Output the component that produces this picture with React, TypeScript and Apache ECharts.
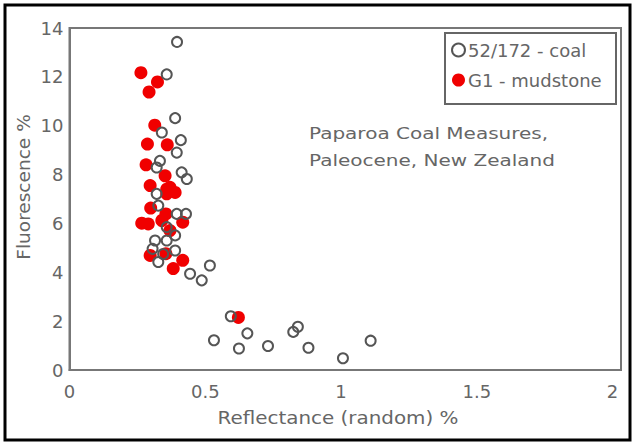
import React, { useEffect, useRef } from "react";
import * as echarts from "echarts";

const coalData: [number, number][] = [
  [0.396, 13.43], [0.358, 12.1], [0.389, 10.31], [0.34, 9.72], [0.41, 9.41],
  [0.395, 8.9], [0.333, 8.56], [0.321, 8.29], [0.413, 8.09], [0.432, 7.82],
  [0.321, 7.21], [0.327, 6.73], [0.395, 6.39], [0.429, 6.39], [0.358, 5.85],
  [0.389, 5.51], [0.315, 5.3], [0.358, 5.3], [0.306, 4.96], [0.389, 4.89],
  [0.345, 4.75], [0.327, 4.42], [0.517, 4.28], [0.444, 3.94], [0.487, 3.67],
  [0.594, 2.2], [0.655, 1.5], [0.532, 1.22], [0.624, 0.88], [0.731, 0.98],
  [0.824, 1.56], [0.841, 1.77], [0.88, 0.91], [1.007, 0.48], [1.109, 1.2],
];

const mudstoneData: [number, number][] = [
  [0.263, 12.17], [0.324, 11.79], [0.293, 11.38], [0.314, 10.02], [0.287, 9.25],
  [0.36, 9.22], [0.282, 8.4], [0.352, 7.95], [0.297, 7.55], [0.37, 7.48],
  [0.389, 7.27], [0.358, 7.21], [0.358, 7.4], [0.299, 6.63], [0.355, 6.39],
  [0.266, 6.01], [0.29, 5.98], [0.34, 6.12], [0.417, 6.05], [0.37, 5.71],
  [0.297, 4.69], [0.355, 4.76], [0.382, 4.15], [0.417, 4.49], [0.622, 2.15],
];

const seriesNames = ["52/172 - coal", "G1 - mudstone"];
const xTitle = "Reflectance (random) %";
const yTitle = "Fluorescence %";
const noteLines = ["Paparoa Coal Measures,", "Paleocene, New Zealand"];

const FONT = "DejaVu Sans";
const GRAY = "#666";

export default function App() {
  const ref = useRef<HTMLDivElement>(null);
  useEffect(() => {
    document.body.style.margin = "0";
    const chart = echarts.init(ref.current!, undefined, { renderer: "svg" });
    chart.setOption({
      animation: false,
      backgroundColor: "#fff",
      grid: {
        left: 69.5,
        right: 13,
        top: 28,
        bottom: 74,
        show: true,
        borderColor: "#777",
        borderWidth: 2,
        outerBoundsMode: "none",
      },
      xAxis: {
        type: "value",
        min: 0,
        max: 2.031,
        interval: 0.5,
        splitLine: { show: false },
        axisTick: { show: false },
        axisLine: { show: true, lineStyle: { color: "#777", width: 2 } },
        axisLabel: {
          color: GRAY,
          fontFamily: FONT,
          fontSize: 18,
          margin: 12,
          formatter: (v: number) => (v > 2.001 ? "" : String(v)),
        },
      },
      yAxis: {
        type: "value",
        min: 0,
        max: 14,
        interval: 2,
        splitLine: { show: false },
        axisTick: { show: false },
        axisLine: { show: true, lineStyle: { color: "#777", width: 2 } },
        axisLabel: { color: GRAY, fontFamily: FONT, fontSize: 18, margin: 6 },
      },
      legend: {
        orient: "vertical",
        left: 451,
        top: 41,
        padding: 0,
        itemGap: 12,
        itemWidth: 13,
        itemHeight: 13,
        textStyle: { color: GRAY, fontFamily: FONT, fontSize: 18, padding: [0, 0, 0, -2] },
        data: [
          { name: seriesNames[0], icon: "circle" },
          { name: seriesNames[1], icon: "circle" },
        ],
      },
      graphic: [
        {
          type: "rect",
          shape: { x: 5, y: 5, width: 625, height: 435 },
          style: { fill: "none", stroke: "#000", lineWidth: 3 },
          silent: true,
        },
        {
          type: "rect",
          shape: { x: 445, y: 33, width: 171, height: 71 },
          style: { fill: "none", stroke: "#666", lineWidth: 2 },
          silent: true,
        },
        {
          type: "text",
          x: 338,
          y: 418,
          scaleX: 1.17,
          style: {
            text: xTitle,
            fill: GRAY,
            font: `17px "${FONT}"`,
            textAlign: "center",
            textVerticalAlign: "middle",
          },
        },
        {
          type: "text",
          x: 24,
          y: 187,
          rotation: Math.PI / 2,
          scaleX: 1.09,
          style: {
            text: yTitle,
            fill: GRAY,
            font: `17px "${FONT}"`,
            textAlign: "center",
            textVerticalAlign: "middle",
          },
        },
        {
          type: "text",
          x: 309,
          y: 133,
          scaleX: 1.25,
          style: {
            text: noteLines[0],
            fill: GRAY,
            font: `16px "${FONT}"`,
            textAlign: "left",
            textVerticalAlign: "middle",
          },
        },
        {
          type: "text",
          x: 309,
          y: 160,
          scaleX: 1.25,
          style: {
            text: noteLines[1],
            fill: GRAY,
            font: `16px "${FONT}"`,
            textAlign: "left",
            textVerticalAlign: "middle",
          },
        },
      ],
      series: [
        {
          name: seriesNames[1],
          type: "scatter",
          data: mudstoneData,
          symbol: "circle",
          symbolSize: 13,
          itemStyle: { color: "#f00000", opacity: 1 },
          z: 2,
        },
        {
          name: seriesNames[0],
          type: "scatter",
          data: coalData,
          symbol: "circle",
          symbolSize: 10,
          itemStyle: { color: "rgba(255,255,255,0)", borderColor: "#555", borderWidth: 2, opacity: 1 },
          z: 3,
        },
      ],
    });
    return () => chart.dispose();
  }, []);
  return (
    <div
      ref={ref}
      style={{ position: "absolute", left: 0, top: 0, width: 634, height: 444 }}
    />
  );
}
